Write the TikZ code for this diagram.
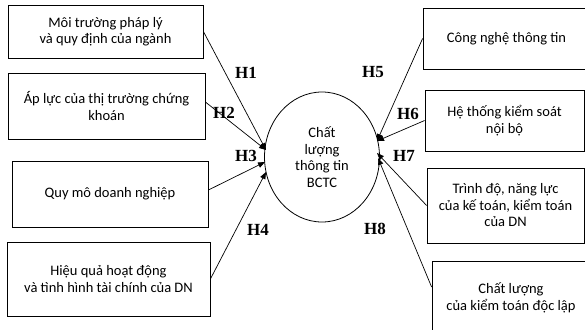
\documentclass[tikz,border=0pt]{standalone}
\usepackage{fontspec}
\setmainfont{Carlito}
\newfontfamily\hfont{Liberation Serif}
\usetikzlibrary{arrows.meta,shapes.geometric}
\tikzset{
  box/.style={draw, line width=0.8pt, align=center, inner sep=2pt,
    font=\fontsize{14.5}{16.5}\selectfont},
  hlab/.style={font=\hfont\bfseries\fontsize{17}{17}\selectfont, inner sep=0pt},
  conn/.style={line width=0.7pt, -{Triangle[length=7pt,width=5.5pt]}},
}
\begin{document}
\begin{tikzpicture}[x=1pt,y=-1pt]
\useasboundingbox (0,0) rectangle (585,329);
% left boxes
\node[box, minimum width=195pt, minimum height=53pt] (b1) at (105.5,31.5) {Môi trường pháp lý\\và quy định của ngành};
\node[box, minimum width=197pt, minimum height=66pt] (b2) at (106.5,106) {Áp lực của thị trường chứng\\khoán};
\node[box, minimum width=196pt, minimum height=66pt] (b3) at (110,194) {Quy mô doanh nghiệp};
\node[box, minimum width=203pt, minimum height=74pt] (b4) at (108.5,279) {Hiệu quả hoạt động\\và tình hình tài chính của DN};
% right boxes
\node[box, minimum width=167pt, minimum height=61pt] (b5) at (506.5,38.5) {Công nghệ thông tin};
\node[box, minimum width=159pt, minimum height=61pt] (b6) at (504.5,120.5) {Hệ thống kiểm soát\\nội bộ};
\node[box, minimum width=157pt, minimum height=75pt] (b7) at (505.5,205.5) {Trình độ, năng lực\\của kế toán, kiểm toán\\của DN};
\node[box, minimum width=158pt, minimum height=74pt] (b8) at (511,298) {Chất lượng\\của kiểm toán độc lập};
% ellipse
\node[draw, line width=0.8pt, ellipse, minimum width=115pt, minimum height=130pt, inner sep=0pt,
  align=center, font=\fontsize{14.5}{16.5}\selectfont] (e) at (322,157) {Chất\\lượng\\thông tin\\BCTC};
% arrow targets on the ellipse
\coordinate (t1) at (266,150);
\coordinate (t3) at (265,162);
\coordinate (t4) at (266,172);
\coordinate (t5) at (377,141);
\coordinate (t7) at (377,153);
\coordinate (t8) at (378,158);
% connectors
\draw[conn] (b1.east) -- (t1);
\draw[conn] ([yshift=4pt]b2.east) -- (t1);
\draw[conn] ([yshift=4pt]b3.east) -- (t3);
\draw[conn] (b4.east) -- (t4);
\draw[conn] (b5.west) -- (t5);
\draw[conn] (b6.west) -- (t5);
\draw[conn] (b7.west) -- (t7);
\draw[conn] ([yshift=11pt]b8.west) -- (t8);
% labels
\node[hlab] (h1) at (246,73) {H1};
\node[hlab] (h2) at (224,113) {H2};
\node[hlab] (h3) at (246,156) {H3};
\node[hlab] (h4) at (258,230) {H4};
\node[hlab] (h5) at (373,72) {H5};
\node[hlab] (h6) at (408,114) {H6};
\node[hlab] (h7) at (404,156) {H7};
\node[hlab] (h8) at (375,229) {H8};
\end{tikzpicture}
\end{document}
